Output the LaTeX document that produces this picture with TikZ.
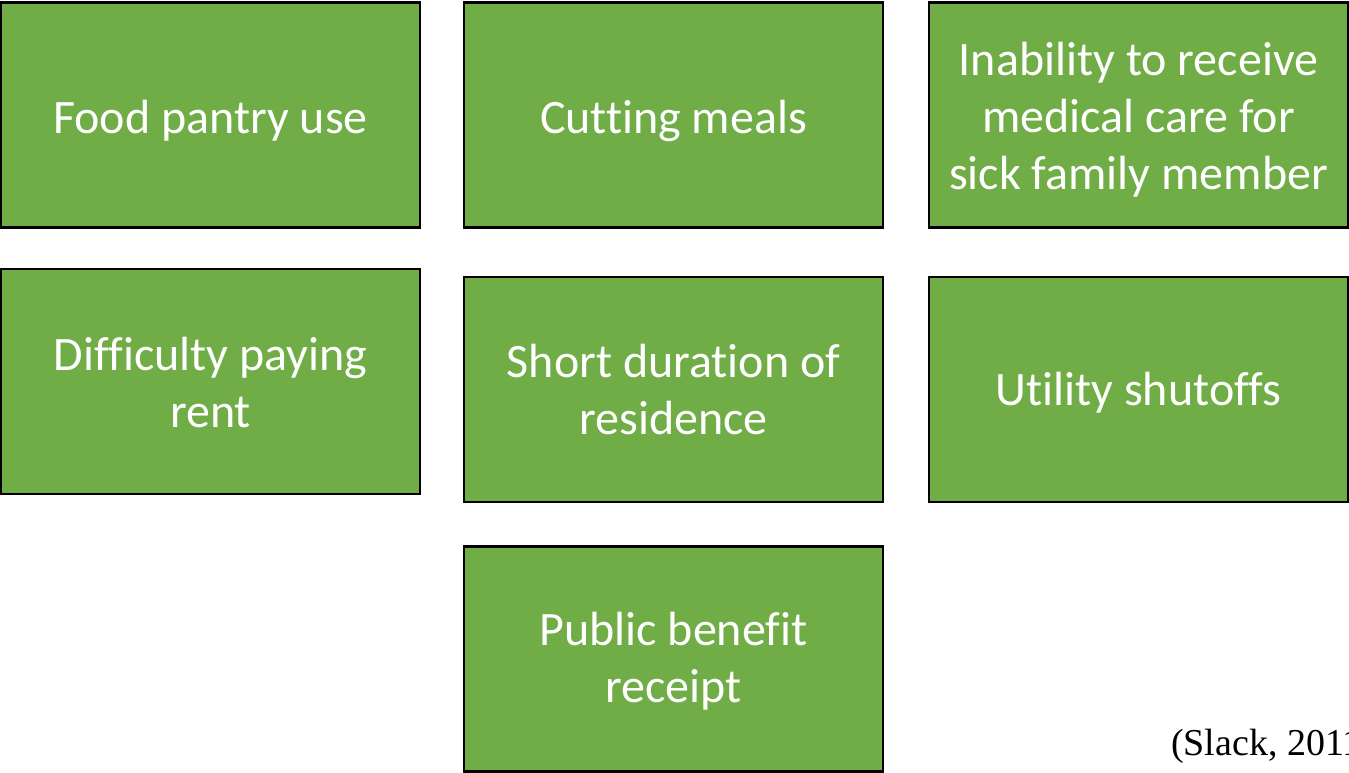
\documentclass[tikz,border=0pt]{standalone}
\usepackage{fontspec}
\setmainfont[RawFeature={-liga;-clig;-dlig;-rlig;-calt}]{Carlito}
\newfontfamily\citefont{Liberation Serif}
\definecolor{boxgreen}{HTML}{70AD47}
\begin{document}
\begin{tikzpicture}[x=1pt,y=-1pt,
  gbox/.style={draw=black, line width=2.4pt, fill=boxgreen,
    minimum width=419pt, minimum height=225pt, inner sep=0pt},
  gtext/.style={text=white, align=center, inner sep=0pt,
    font=\fontsize{48}{57}\selectfont, label distance=0pt}]
\useasboundingbox (0,0) rectangle (1349,772);
\clip (0,0) rectangle (1349,772);
\node[gbox, label={[gtext, yshift=-6pt]center:Food pantry use}] (b1) at (210.5,115) {};
\node[gbox, label={[gtext, yshift=-6pt]center:Cutting meals}] (b2) at (673.5,115) {};
\node[gbox, label={[gtext, yshift=-5pt]center:Inability to receive\\medical care for\\sick family member}] (b3) at (1138.5,115) {};
\node[gbox, label={[gtext, yshift=-1pt]center:Difficulty paying\\rent}] (b4) at (210.5,381.5) {};
\node[gbox, label={[gtext]center:Short duration of\\residence}] (b5) at (673.5,389.5) {};
\node[gbox, label={[gtext, yshift=-3pt]center:Utility shutoffs}] (b6) at (1138.5,389.5) {};
\node[gbox, label={[gtext, yshift=-2pt]center:Public benefit\\receipt}] (b7) at (673.5,659) {};
\node[anchor=base west, inner sep=0pt, font=\citefont\fontsize{38}{46}\selectfont] (cite) at (1171,755) {(Slack, 2011)};
\end{tikzpicture}
\end{document}
